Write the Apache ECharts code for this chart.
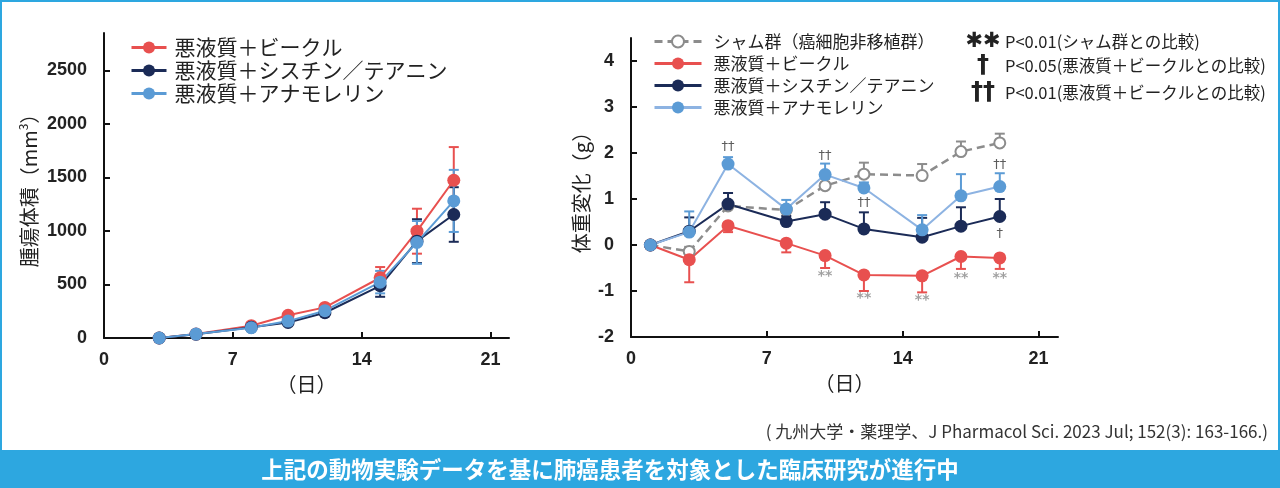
<!DOCTYPE html>
<html><head><meta charset="utf-8">
<script src="https://cdn.jsdelivr.net/npm/echarts@6/dist/echarts.min.js"></script>
<style>html,body{margin:0;padding:0;background:#fff}#c{width:1280px;height:488px}</style>
</head><body><div id="c"></div>
<script>
// ---- Left chart: tumour volume (mm3) ----
const tumorDays = [3, 5, 8, 10, 12, 15, 17, 19];
const tumorVehicle    = [0, 37, 115, 212, 286, 563, 998, 1474];
const tumorVehicleErr = [4, 6, 12, 20, 25, 100, 210, 310];
const tumorCysTheo    = [0, 35, 100, 145, 236, 488, 905, 1154];
const tumorCysTheoErr = [4, 6, 10, 18, 22, 103, 205, 255];
const tumorAnamo      = [0, 37, 96, 158, 255, 522, 893, 1281];
const tumorAnamoErr   = [4, 6, 10, 18, 22, 105, 200, 290];
const tumorXTicks = [0, 7, 14, 21];
const tumorYTicks = [0, 500, 1000, 1500, 2000, 2500];

// ---- Right chart: body weight change (g) ----
const bwDays = [1, 3, 5, 8, 10, 12, 15, 17, 19];
const bwSham       = [0, -0.14, 0.85, 0.76, 1.29, 1.54, 1.51, 2.03, 2.22];
const bwShamErr    = [0, 0.10, 0.10, 0.10, 0.15, 0.25, 0.25, 0.22, 0.20];
const bwVehicle    = [0, -0.32, 0.42, 0.04, -0.23, -0.65, -0.67, -0.25, -0.28];
const bwVehicleErr = [0, 0.49, 0.14, 0.20, 0.27, 0.35, 0.36, 0.27, 0.24];
const bwCysTheo    = [0, 0.30, 0.89, 0.51, 0.67, 0.35, 0.17, 0.41, 0.62];
const bwCysTheoErr = [0, 0.30, 0.24, 0.12, 0.26, 0.36, 0.42, 0.41, 0.38];
const bwAnamo      = [0, 0.28, 1.76, 0.78, 1.53, 1.24, 0.33, 1.07, 1.27];
const bwAnamoErr   = [0, 0.45, 0.15, 0.20, 0.24, 0.12, 0.32, 0.47, 0.29];
const bwXTicks = [0, 7, 14, 21];
const bwYTicks = [-2, -1, 0, 1, 2, 3, 4];
// significance marks: [day, value position, text]
const daggerMarks = [[5, 2.14, '††'], [10, 1.94, '††'], [12, 0.93, '††'], [19, 1.75, '††'], [19, 0.24, '†']];
const starMarks = [[10, -0.69, '**'], [12, -1.17, '**'], [15, -1.21, '**'], [17, -0.72, '**'], [19, -0.72, '**']];

const names = {
  sham: 'シャム群（癌細胞非移植群）',
  veh: '悪液質＋ビークル',
  cys: '悪液質＋シスチン／テアニン',
  ana: '悪液質＋アナモレリン'
};
const C = { red: '#e8504f', navy: '#1b2b57', blue: '#5b9bd5', blueLine: '#8db3e2', gray: '#8c8c8c' };
const JP = 'Noto Sans CJK JP';
const NUM = 'Liberation Sans';

function pairs(x, y) { return x.map((d, i) => [d, y[i]]); }
function errBoth(x, y, e) { return x.map((d, i) => [d, y[i] - e[i], y[i] + e[i]]); }
function errOne(x, y, e, dir) { return x.map((d, i) => [d, y[i], y[i] + dir * e[i]]).filter((v, i) => e[i] > 0); }

function errorSeries(idx, data, color, both) {
  return {
    type: 'custom', xAxisIndex: idx, yAxisIndex: idx, data: data, silent: true, animation: false,
    renderItem: function (params, api) {
      const x = api.value(0), a = api.value(1), b = api.value(2);
      const p1 = api.coord([x, a]), p2 = api.coord([x, b]);
      const w = 5;
      const st = { stroke: color, lineWidth: 2 };
      const ch = [
        { type: 'line', shape: { x1: p1[0], y1: p1[1], x2: p2[0], y2: p2[1] }, style: st },
        { type: 'line', shape: { x1: p2[0] - w, y1: p2[1], x2: p2[0] + w, y2: p2[1] }, style: st }
      ];
      if (both) ch.push({ type: 'line', shape: { x1: p1[0] - w, y1: p1[1], x2: p1[0] + w, y2: p1[1] }, style: st });
      return { type: 'group', children: ch };
    }
  };
}
function lineSeries(idx, name, x, y, color, lineColor, extra) {
  return Object.assign({
    type: 'line', name: name, xAxisIndex: idx, yAxisIndex: idx, data: pairs(x, y),
    symbol: 'circle', symbolSize: 13, animation: false,
    lineStyle: { color: lineColor || color, width: 2 },
    itemStyle: { color: color }
  }, extra || {});
}
function markSeries(marks, color, size, font, weight) {
  return {
    type: 'scatter', xAxisIndex: 1, yAxisIndex: 1, silent: true, animation: false,
    symbolSize: 1, itemStyle: { color: 'rgba(0,0,0,0)' },
    data: marks.map(m => ({ name: m[2], value: [m[0], m[1]] })),
    label: { show: true, position: 'inside', formatter: '{b}', color: color, fontSize: size, fontFamily: font, fontWeight: weight || 'normal' }
  };
}

const axisLineStyle = { color: '#111', width: 2 };
const plainNum = v => String(v);
function xAxisCfg(idx, ticks) {
  return {
    type: 'value', gridIndex: idx, min: 0, max: 22, interval: 7,
    axisLine: { onZero: false, lineStyle: axisLineStyle },
    axisTick: { inside: true, length: 6, lineStyle: axisLineStyle, customValues: ticks },
    axisLabel: { customValues: ticks, formatter: plainNum, fontFamily: NUM, fontWeight: 'bold', fontSize: 18, color: '#222', margin: 13 },
    splitLine: { show: false },
    name: '（日）', nameLocation: 'middle', nameGap: 36,
    nameTextStyle: { fontFamily: JP, fontSize: 20, color: '#222' }
  };
}
function yAxisCfg(idx, min, max, interval, ticks, name, gap, rich) {
  return {
    type: 'value', gridIndex: idx, min: min, max: max, interval: interval,
    axisLine: { show: true, onZero: false, lineStyle: axisLineStyle },
    axisTick: { show: true, inside: true, length: 6, lineStyle: axisLineStyle, customValues: ticks },
    axisLabel: { customValues: ticks, formatter: plainNum, fontFamily: NUM, fontWeight: 'bold', fontSize: 18, color: '#222', margin: 17 },
    splitLine: { show: false },
    name: name, nameLocation: 'middle', nameRotate: 90, nameGap: gap,
    nameTextStyle: { fontFamily: JP, fontSize: 20, color: '#222', rich: rich || {} }
  };
}

const chart = echarts.init(document.getElementById('c'), null, { renderer: 'canvas' });
chart.setOption({
  backgroundColor: '#fff',
  animation: false,
  textStyle: { fontFamily: JP },
  grid: [
    { left: 104, top: 33, width: 405, height: 305, outerBoundsMode: 'none' },
    { left: 631, top: 38, width: 427, height: 299, outerBoundsMode: 'none' }
  ],
  xAxis: [xAxisCfg(0, tumorXTicks), xAxisCfg(1, bwXTicks)],
  yAxis: [
    yAxisCfg(0, 0, 2850, 500, tumorYTicks, '腫瘍体積（mm{s|3}）', 63,
      { s: { fontSize: 12, fontFamily: JP, color: '#222', verticalAlign: 'top', padding: [0, 0, 12, 0] } }),
    yAxisCfg(1, -2, 4.5, 1, bwYTicks, '体重変化（g）', 40)
  ],
  legend: [
    {
      orient: 'vertical', left: 130, top: 37, padding: 0, itemWidth: 35, itemHeight: 15, itemGap: 2,
      selectedMode: false,
      lineStyle: { width: 3 },
      data: [names.veh, names.cys, names.ana],
      textStyle: { fontFamily: JP, fontSize: 21, color: '#222', lineHeight: 21, padding: [0, 0, 0, 3] }
    },
    {
      orient: 'vertical', left: 653, top: 33, padding: 0, itemWidth: 47, itemHeight: 15, itemGap: 5,
      selectedMode: false,
      lineStyle: { width: 3 },
      data: [names.sham, names.veh, names.cys,
        { name: names.ana, lineStyle: { color: C.blueLine, width: 3 } }],
      textStyle: { fontFamily: JP, fontSize: 17, color: '#222', lineHeight: 17, padding: [0, 0, 0, 7] }
    }
  ],
  series: [
    // left chart
    errorSeries(0, errBoth(tumorDays, tumorVehicle, tumorVehicleErr), C.red, true),
    lineSeries(0, names.veh, tumorDays, tumorVehicle, C.red),
    errorSeries(0, errBoth(tumorDays, tumorCysTheo, tumorCysTheoErr), C.navy, true),
    lineSeries(0, names.cys, tumorDays, tumorCysTheo, C.navy),
    errorSeries(0, errBoth(tumorDays, tumorAnamo, tumorAnamoErr), C.blue, true),
    lineSeries(0, names.ana, tumorDays, tumorAnamo, C.blue),
    // right chart
    errorSeries(1, errOne(bwDays, bwSham, bwShamErr, 1), C.gray, false),
    lineSeries(1, names.sham, bwDays, bwSham, C.gray, C.gray, {
      symbol: 'emptyCircle', symbolSize: 11,
      itemStyle: { color: C.gray, borderWidth: 2 },
      lineStyle: { color: C.gray, width: 2.5, type: [8, 5] }
    }),
    errorSeries(1, errOne(bwDays, bwVehicle, bwVehicleErr, -1), C.red, false),
    lineSeries(1, names.veh, bwDays, bwVehicle, C.red),
    errorSeries(1, errOne(bwDays, bwCysTheo, bwCysTheoErr, 1), C.navy, false),
    lineSeries(1, names.cys, bwDays, bwCysTheo, C.navy),
    errorSeries(1, errOne(bwDays, bwAnamo, bwAnamoErr, 1), C.blue, false),
    lineSeries(1, names.ana, bwDays, bwAnamo, C.blue, C.blueLine),
    markSeries(daggerMarks, '#333', 13, 'DejaVu Sans'),
    markSeries(starMarks, '#888', 14, 'DejaVu Sans', 'bold')
  ],
  graphic: [
    { type: 'rect', silent: true, shape: { x: 1, y: 1, width: 1278, height: 486 }, style: { fill: 'none', stroke: '#2da7e0', lineWidth: 2 } },
    { type: 'rect', silent: true, shape: { x: 0, y: 450, width: 1280, height: 38 }, style: { fill: '#2da7e0' } },
    { type: 'text', silent: true, x: 610, y: 469, style: { text: '上記の動物実験データを基に肺癌患者を対象とした臨床研究が進行中', fill: '#fff', font: 'bold 22.5px "Noto Sans CJK JP"', textAlign: 'center', textVerticalAlign: 'middle' } },
    { type: 'text', silent: true, x: 1268, y: 432, style: { text: '( 九州大学・薬理学、J Pharmacol Sci. 2023 Jul; 152(3): 163-166.)', fill: '#333', font: '17px "Noto Sans CJK JP"', textAlign: 'right', textVerticalAlign: 'middle' } },
    // significance legend
    { type: 'text', silent: true, x: 983, y: 42, style: { text: '✱✱', fill: '#222', font: 'bold 21px "DejaVu Sans"', textAlign: 'center', textVerticalAlign: 'middle' } },
    { type: 'text', silent: true, x: 1005, y: 42, style: { text: 'P<0.01(シャム群との比較)', fill: '#222', font: '16.5px "Noto Sans CJK JP"', textAlign: 'left', textVerticalAlign: 'middle' } },
    { type: 'text', silent: true, x: 983, y: 66, style: { text: '†', fill: '#222', font: 'bold 24px "DejaVu Sans"', textAlign: 'center', textVerticalAlign: 'middle' } },
    { type: 'text', silent: true, x: 1005, y: 66, style: { text: 'P<0.05(悪液質＋ビークルとの比較)', fill: '#222', font: '16.5px "Noto Sans CJK JP"', textAlign: 'left', textVerticalAlign: 'middle' } },
    { type: 'text', silent: true, x: 983, y: 93, style: { text: '††', fill: '#222', font: 'bold 24px "DejaVu Sans"', textAlign: 'center', textVerticalAlign: 'middle' } },
    { type: 'text', silent: true, x: 1005, y: 93, style: { text: 'P<0.01(悪液質＋ビークルとの比較)', fill: '#222', font: '16.5px "Noto Sans CJK JP"', textAlign: 'left', textVerticalAlign: 'middle' } }
  ]
});
</script></body></html>
